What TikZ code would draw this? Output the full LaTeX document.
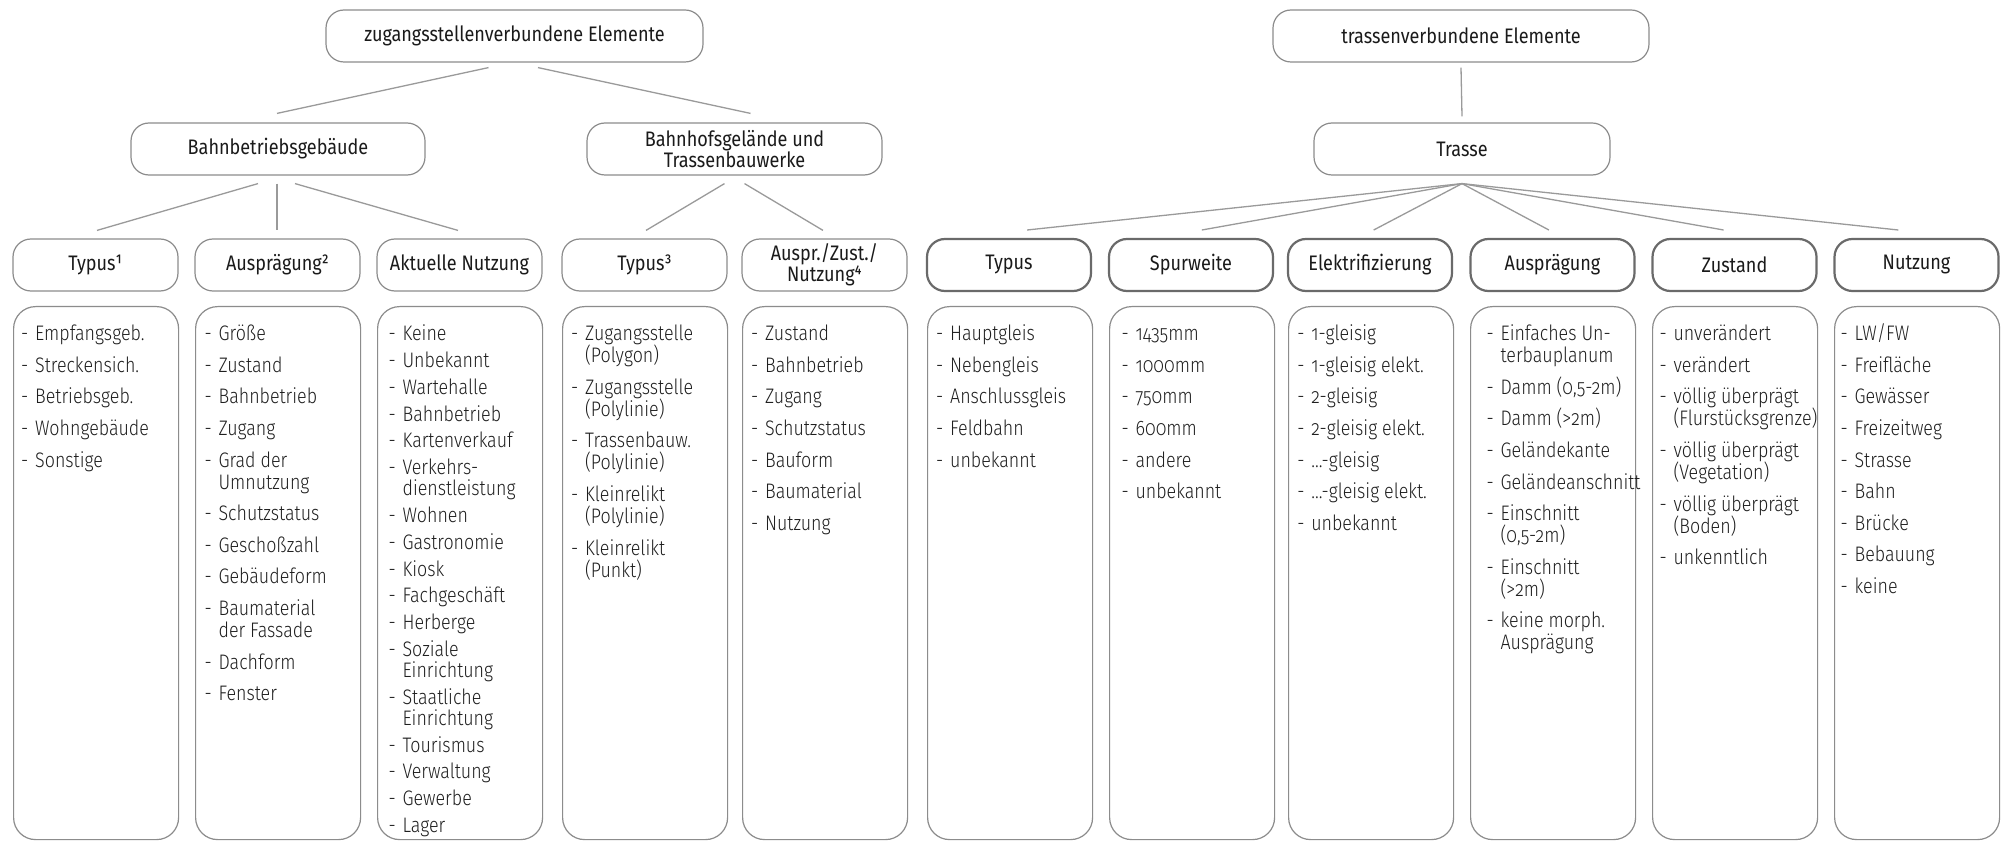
\documentclass[tikz,border=0pt]{standalone}
\usepackage{fontspec}
\setmainfont{Fira Sans}[FakeStretch=0.86,Numbers=OldStyle]
\newfontfamily\lightfont{Fira Sans Light}[FakeStretch=0.85,Numbers=OldStyle]
\usetikzlibrary{calc}
\definecolor{boxgray}{HTML}{8C8C8C}
\definecolor{darkbox}{HTML}{6A6A6A}
\definecolor{linegray}{HTML}{9A9A9A}
\definecolor{txt}{HTML}{1A1A1A}
\definecolor{ltxt}{HTML}{1F1F1F}
\newlength\txtoff
\newcommand\itm[1]{\par\hangindent=\txtoff\hangafter=1\noindent\hbox to \txtoff{\hspace*{\dimexpr\txtoff-14pt\relax}-\hfil}#1}
\newcommand\fitm[1]{\par\hangindent=\txtoff\hangafter=1\noindent\rule{0pt}{34pt}\hbox to \txtoff{\hspace*{\dimexpr\txtoff-14pt\relax}-\hfil}#1}
\newcommand\colcontent[4]{\parbox[c][533pt][t]{165pt}{\lightfont\fontsize{21}{#2}\selectfont\raggedright\setlength\txtoff{#1}\setlength\parskip{#3}#4}}
\tikzset{
  hdr/.style={draw=boxgray, line width=1.2pt, rounded corners=18pt, minimum height=52pt, inner sep=0pt, align=center, text=txt, font=\fontsize{21}{21}\selectfont},
  lthree/.style={hdr, minimum width=165pt},
  dthree/.style={hdr, minimum width=164pt, draw=darkbox, line width=2.2pt},
  colbox/.style={draw=boxgray, line width=1.2pt, rounded corners=22pt, minimum width=165pt, minimum height=533pt, inner sep=0pt, anchor=north west, text=ltxt},
  conn/.style={draw=linegray, line width=1.3pt}
}
\begin{document}
\begin{tikzpicture}[x=1pt,y=-1pt]
\fill[white] (0,0) rectangle (2008,842);
\useasboundingbox (0,0) rectangle (2008,842);

% top level
\node[hdr, minimum width=377pt] (Z) at (514.5,36) {zugangsstellenverbundene Elemente};
\node[hdr, minimum width=376pt] (T) at (1461,36) {trassenverbundene Elemente};
% level 2
\node[hdr, minimum width=294pt] (BB) at (278,149) {Bahnbetriebsgebäude};
\node[hdr, minimum width=295pt] (BT) at (734.5,149) {Bahnhofsgelände und\\Trassenbauwerke};
\node[hdr, minimum width=296pt] (TR) at (1462,149) {Trasse};
% level 3 left
\node[lthree] (h1) at (95.5,265) {Typus¹};
\node[lthree] (h2) at (277.5,265) {Ausprägung²};
\node[lthree] (h3) at (459.5,265) {Aktuelle Nutzung};
\node[lthree] (h4) at (644.5,265) {Typus³};
\node[lthree] (h5) at (824.5,265) {Auspr./Zust./\\Nutzung⁴};
% level 3 right
\node[dthree] (h6) at (1009,265) {Typus};
\node[dthree] (h7) at (1191,265) {Spurweite};
\node[dthree] (h8) at (1370,265) {Elektrifizierung};
\node[dthree] (h9) at (1552.5,265) {Ausprägung};
\node[dthree] (h10) at (1734.5,265) {Zustand};
\node[dthree] (h11) at (1916.5,265) {Nutzung};

% content columns
\node[colbox] (c1) at (13,306) {\colcontent{21.6pt}{22pt}{9.6pt}{%
 \fitm{Empfangsgeb.}\itm{Streckensich.}\itm{Betriebsgeb.}\itm{Wohngebäude}\itm{Sonstige}}};
\node[colbox] (c2) at (195,306) {\colcontent{23pt}{22pt}{9.6pt}{%
 \fitm{Größe}\itm{Zustand}\itm{Bahnbetrieb}\itm{Zugang}\itm{Grad der\newline Umnutzung}\itm{Schutzstatus}\itm{Geschoßzahl}\itm{Gebäudeform}\itm{Baumaterial\newline der Fassade}\itm{Dachform}\itm{Fenster}}};
\node[colbox] (c3) at (377,306) {\colcontent{25pt}{21pt}{5.8pt}{%
 \fitm{Keine}\itm{Unbekannt}\itm{Wartehalle}\itm{Bahnbetrieb}\itm{Kartenverkauf}\itm{Verkehrs-\newline dienstleistung}\itm{Wohnen}\itm{Gastronomie}\itm{Kiosk}\itm{Fachgeschäft}\itm{Herberge}\itm{Soziale\newline Einrichtung}\itm{Staatliche\newline Einrichtung}\itm{Tourismus}\itm{Verwaltung}\itm{Gewerbe}\itm{Lager}}};
\node[colbox] (c4) at (562,306) {\colcontent{22.6pt}{22pt}{9.6pt}{%
 \fitm{Zugangsstelle\newline (Polygon)}\itm{Zugangsstelle\newline (Polylinie)}\itm{Trassenbauw.\newline (Polylinie)}\itm{Kleinrelikt\newline (Polylinie)}\itm{Kleinrelikt\newline (Punkt)}}};
\node[colbox] (c5) at (742,306) {\colcontent{22.5pt}{22pt}{9.6pt}{%
 \fitm{Zustand}\itm{Bahnbetrieb}\itm{Zugang}\itm{Schutzstatus}\itm{Bauform}\itm{Baumaterial}\itm{Nutzung}}};
\node[colbox, minimum width=164pt] (c6) at (927,306) {\colcontent{22.6pt}{22pt}{9.6pt}{%
 \fitm{Hauptgleis}\itm{Nebengleis}\itm{Anschlussgleis}\itm{Feldbahn}\itm{unbekannt}}};
\node[colbox, minimum width=164pt] (c7) at (1109,306) {\colcontent{26pt}{22pt}{9.6pt}{%
 \fitm{1435mm}\itm{1000mm}\itm{750mm}\itm{600mm}\itm{andere}\itm{unbekannt}}};
\node[colbox, minimum width=164pt] (c8) at (1288,306) {\colcontent{22.7pt}{22pt}{9.6pt}{%
 \fitm{1-gleisig}\itm{1-gleisig elekt.}\itm{2-gleisig}\itm{2-gleisig elekt.}\itm{…-gleisig}\itm{…-gleisig elekt.}\itm{unbekannt}}};
\node[colbox, minimum width=164pt] (c9) at (1470,306) {\colcontent{30pt}{22pt}{9.6pt}{%
 \fitm{Einfaches Un-\newline terbauplanum}\itm{Damm (0,5-2m)}\itm{Damm (>2m)}\itm{Geländekante}\itm{Geländeanschnitt}\itm{Einschnitt\newline (0,5-2m)}\itm{Einschnitt\newline (>2m)}\itm{keine morph.\newline Ausprägung}}};
\node[colbox, minimum width=164pt] (c10) at (1652,306) {\colcontent{21pt}{22pt}{9.6pt}{%
 \fitm{unverändert}\itm{verändert}\itm{völlig überprägt\newline (Flurstücksgrenze)}\itm{völlig überprägt\newline (Vegetation)}\itm{völlig überprägt\newline (Boden)}\itm{unkenntlich}}};
\node[colbox, minimum width=164pt] (c11) at (1834,306) {\colcontent{20pt}{22pt}{9.6pt}{%
 \fitm{LW/FW}\itm{Freifläche}\itm{Gewässer}\itm{Freizeitweg}\itm{Strasse}\itm{Bahn}\itm{Brücke}\itm{Bebauung}\itm{keine}}};

% connectors top -> level 2
\draw[conn] ([xshift=-26pt,yshift=-5pt]Z.south) -- ([xshift=-1pt,yshift=9pt]BB.north);
\draw[conn] ([xshift=23.5pt,yshift=-5pt]Z.south) -- ([xshift=16pt,yshift=9pt]BT.north);
\draw[conn] ([yshift=-5pt]T.south) -- ([yshift=6pt]TR.north);
% level 2 -> level 3 (left)
\draw[conn] ([xshift=-20pt,yshift=-8pt]BB.south) -- ([xshift=1.5pt,yshift=8pt]h1.north);
\draw[conn] ([xshift=-1pt,yshift=-8pt]BB.south) -- ([xshift=-0.5pt,yshift=8pt]h2.north);
\draw[conn] ([xshift=17pt,yshift=-8pt]BB.south) -- ([xshift=-1.5pt,yshift=8pt]h3.north);
\draw[conn] ([xshift=-10pt,yshift=-8pt]BT.south) -- ([xshift=1.5pt,yshift=8pt]h4.north);
\draw[conn] ([xshift=10pt,yshift=-8pt]BT.south) -- ([xshift=-1.5pt,yshift=8pt]h5.north);
% Trasse fan
\coordinate (hub) at ([yshift=-8pt]TR.south);
\coordinate (lvl) at (0,230);
\foreach \c in {h6,h7,h8,h9,h10,h11}{
  \coordinate (e\c) at ($(hub)!0.96!(\c.north)$);
  \draw[conn] (hub) -- (e\c |- lvl);
}
\end{tikzpicture}
\end{document}
